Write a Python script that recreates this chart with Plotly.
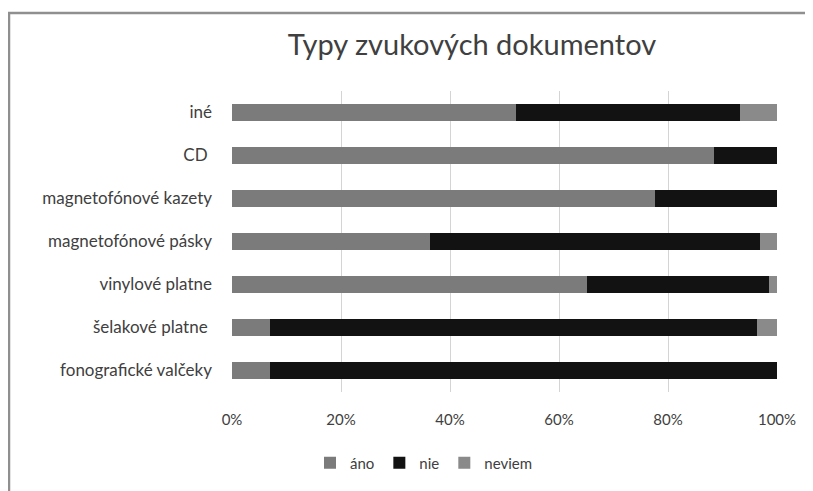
import plotly.graph_objects as go

categories = ["fonografické valčeky", "šelakové platne\u00a0", "vinylové platne",
              "magnetofónové pásky", "magnetofónové kazety", "CD\u00a0", "iné"]
ano = [7.0, 7.0, 65.1, 36.4, 77.6, 88.5, 52.2]
nie = [93.0, 89.3, 33.4, 60.5, 22.4, 11.5, 41.0]
neviem = [0.0, 3.7, 1.5, 3.1, 0.0, 0.0, 6.8]
series_names = ["áno", "nie", "neviem"]
tick_values = [0, 20, 40, 60, 80, 100]
tick_labels = ["0%", "20%", "40%", "60%", "80%", "100%"]

colors = ["#7b7b7b", "#121212", "#8a8a8a"]
FONT = "Lato"

fig = go.Figure()
for name, vals, col in zip(series_names, [ano, nie, neviem], colors):
    fig.add_trace(go.Bar(y=categories, x=vals, name=name, orientation="h",
                         marker=dict(color=col, line=dict(width=0))))

OFF = 8  # page body margin
W, H = 813 - OFF, 491 - OFF
L, R, T, B = 232 - OFF, 36, 91 - OFF, 99
pw, ph = W - L - R, H - T - B

def px(x):
    return (x - OFF - L) / pw

def py(y):
    return (H - B - (y - OFF)) / ph

fig.update_layout(
    width=W, height=H,
    margin=dict(l=L, r=R, t=T, b=B),
    barmode="stack", bargap=0.6,
    paper_bgcolor="white", plot_bgcolor="white",
    font=dict(family=FONT, color="#404040"),
    title=dict(text="Typy zvukových dokumentov", x=px(472), xref="paper", xanchor="center",
               y=1 - (45 - OFF) / H, yanchor="middle",
               font=dict(family=FONT, size=29, color="#404040")),
    xaxis=dict(range=[0, 100], tickmode="array", tickvals=tick_values, ticktext=tick_labels,
               showgrid=True, gridcolor="#d4d4d4", gridwidth=1, zeroline=False,
               showline=False, tickfont=dict(size=15, color="#404040"),
               ticklabelstandoff=17),
    yaxis=dict(showgrid=False, showline=False, zeroline=False,
               tickfont=dict(size=17, color="#404040"), ticklabelstandoff=19),
    legend=dict(orientation="h", x=px(310), xanchor="left", y=py(463), yanchor="middle",
                font=dict(size=15, color="#404040"), itemwidth=30, traceorder="normal"),
    shapes=[dict(type="rect", xref="paper", yref="paper",
                 x0=px(9), x1=px(830), y0=py(520), y1=py(13),
                 line=dict(color="#8f8f8f", width=2.5), fillcolor="rgba(0,0,0,0)", layer="below")],
)

fig.write_html("out.html")
